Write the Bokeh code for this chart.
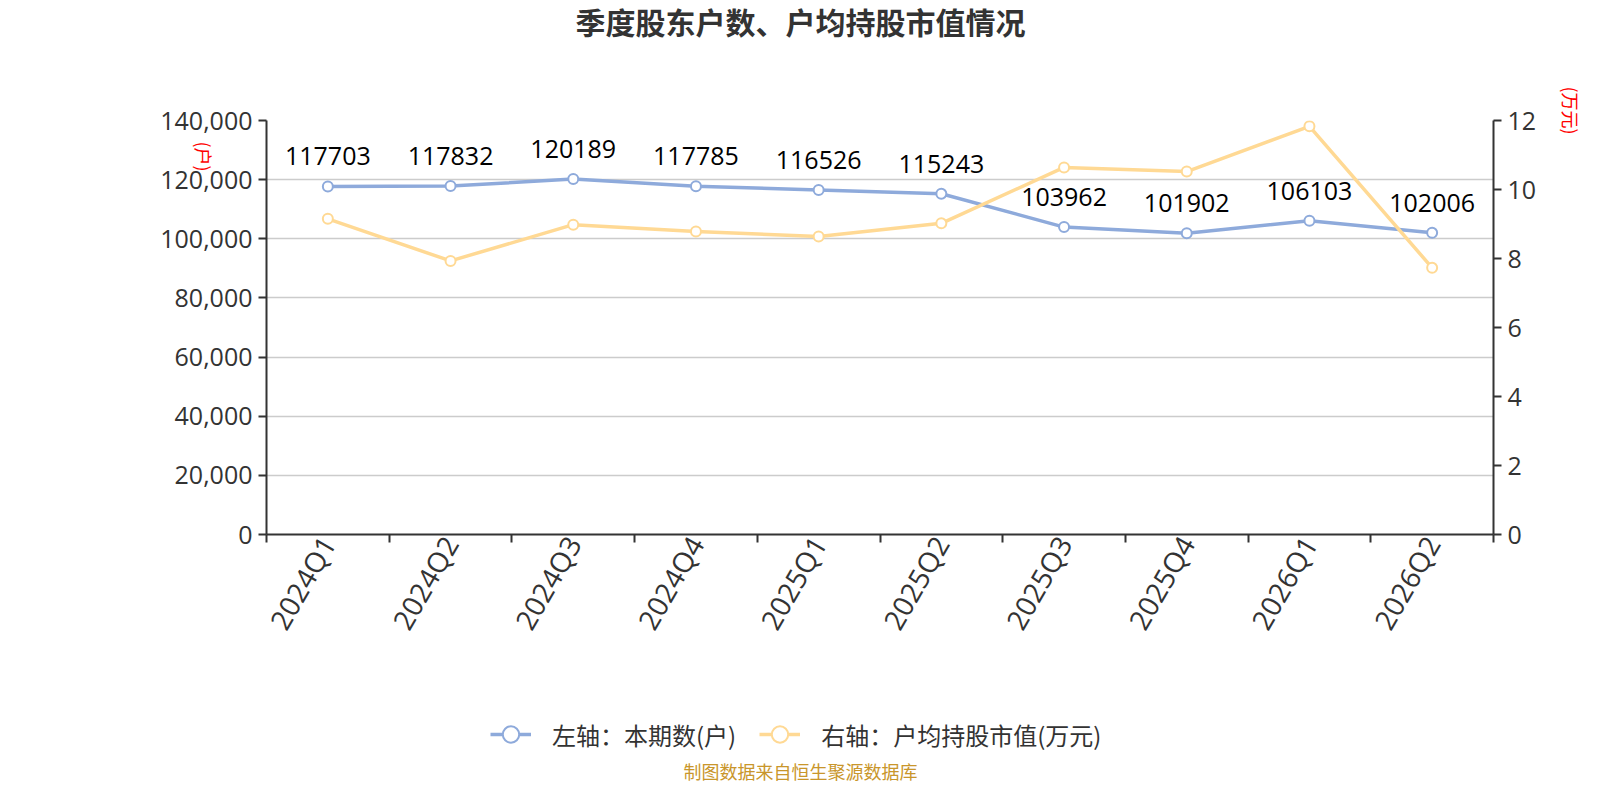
import math
from bokeh.plotting import figure
from bokeh.layouts import column
from bokeh.models import (Range1d, LinearAxis, FixedTicker, NumeralTickFormatter,
                          ColumnDataSource, Label, Legend, LegendItem, Grid)
from bokeh.core.properties import value
from bokeh.embed import file_html
from bokeh.resources import INLINE

# ---------------- data ----------------
quarters = ["2024Q1", "2024Q2", "2024Q3", "2024Q4", "2025Q1",
            "2025Q2", "2025Q3", "2025Q4", "2026Q1", "2026Q2"]
holders = [117703, 117832, 120189, 117785, 116526,
           115243, 103962, 101902, 106103, 102006]
avg_value = [9.15, 7.93, 8.98, 8.78, 8.64, 9.02, 10.64, 10.52, 11.83, 7.73]
left_ticks = [0, 20000, 40000, 60000, 80000, 100000, 120000, 140000]
right_ticks = [0, 2, 4, 6, 8, 10, 12]

title_text = "季度股东户数、户均持股市值情况"
legend_left = "左轴：本期数(户)"
legend_right = "右轴：户均持股市值(万元)"
left_unit = "(户)"
right_unit = "(万元)"
footer_text = "制图数据来自恒生聚源数据库"

BLUE = "#8eaadb"
YELLOW = "#ffd994"
AXIS = "#333333"
CJK = "Noto Sans CJK SC"
NUM = "Open Sans"

n = len(quarters)
xs = [i + 0.5 for i in range(n)]
src = ColumnDataSource(dict(x=xs, holders=holders, avg=avg_value,
                            lbl=[str(v) for v in holders]))

W = 1584
TH = 60            # title strip height
MT, MB = 60, 130   # main figure top / bottom borders
ML, MR = 266, 91   # main figure left / right borders
FRAME_H = 414
MH = MT + FRAME_H + MB
BH = 784 - TH - MH  # bottom strip height

def strip(h):
    # the column aligns this strip's frame with the main frame (ML .. W-MR),
    # so the x range is expressed in page pixels
    f = figure(width=W, height=h, output_backend="svg", toolbar_location=None,
               x_range=Range1d(ML, W - MR), y_range=Range1d(h, 0),
               x_axis_type=None, y_axis_type=None, min_border=0)
    f.outline_line_color = None
    return f

# ---------- title strip ----------
top = strip(TH)
top.add_layout(Label(x=800, y=20, text=title_text, text_align="center",
                     text_baseline="middle", text_font=CJK, text_font_style="bold",
                     text_font_size="30px", text_color="#333333"))

# ---------- main chart ----------
p = figure(width=W, height=MH, output_backend="svg", toolbar_location=None,
           x_range=Range1d(0, n), y_range=Range1d(left_ticks[0], left_ticks[-1]),
           x_axis_type=None, y_axis_type=None,
           min_border_left=ML, min_border_right=MR, min_border_top=MT, min_border_bottom=MB)
p.outline_line_color = None
p.extra_y_ranges = {"right": Range1d(right_ticks[0], right_ticks[-1])}

p.add_layout(Grid(dimension=1, ticker=FixedTicker(ticks=left_ticks),
                  grid_line_color="#cccccc", grid_line_width=1.5))

def style_axis(ax):
    ax.axis_line_color = AXIS
    ax.axis_line_width = 2
    ax.major_tick_line_color = AXIS
    ax.major_tick_line_width = 2
    ax.minor_tick_line_color = AXIS
    ax.minor_tick_line_width = 2
    ax.major_label_text_font = NUM
    ax.major_label_text_font_size = "25px"
    ax.major_label_text_color = AXIS

xaxis = LinearAxis(ticker=FixedTicker(ticks=xs, minor_ticks=list(range(n + 1))),
                   major_label_overrides={x: q for x, q in zip(xs, quarters)})
style_axis(xaxis)
xaxis.major_label_text_font_size = "28px"
xaxis.major_tick_out = 0
xaxis.major_tick_in = 0
xaxis.minor_tick_out = 8
xaxis.minor_tick_in = 0
xaxis.major_label_orientation = math.pi / 3
xaxis.major_label_standoff = -4
p.add_layout(xaxis, "below")

yl = LinearAxis(ticker=FixedTicker(ticks=left_ticks), formatter=NumeralTickFormatter(format="0,0"))
style_axis(yl)
yl.major_tick_out = 8
yl.major_tick_in = 0
yl.minor_tick_out = 0
yl.major_label_standoff = 6
p.add_layout(yl, "left")

yr = LinearAxis(y_range_name="right", ticker=FixedTicker(ticks=right_ticks))
style_axis(yr)
yr.major_tick_out = 8
yr.major_tick_in = 0
yr.minor_tick_out = 0
yr.major_label_standoff = 6
p.add_layout(yr, "right")

p.line("x", "holders", source=src, line_color=BLUE, line_width=3.5)
p.scatter("x", "holders", source=src, size=10, fill_color="white",
          line_color=BLUE, line_width=2)
p.line("x", "avg", source=src, line_color=YELLOW, line_width=3.5, y_range_name="right")
p.scatter("x", "avg", source=src, size=10, fill_color="white",
          line_color=YELLOW, line_width=2, y_range_name="right")

p.text("x", "holders", text="lbl", source=src, text_align="center",
       text_baseline="alphabetic", y_offset=-30, text_font=value(NUM),
       text_font_size="25px", text_color="#000000")

# unit labels in the side panels (positions relative to their own panel box)
p.add_layout(Label(x=72, y=378, x_units="screen", y_units="screen", text=left_unit,
                   text_align="center", text_baseline="middle", angle=-math.pi / 2,
                   text_font=CJK, text_font_size="18px", text_color="#ff0000"), "left")
p.add_layout(Label(x=31, y=424, x_units="screen", y_units="screen", text=right_unit,
                   text_align="center", text_baseline="middle", angle=-math.pi / 2,
                   text_font=CJK, text_font_size="18px", text_color="#ff0000"), "right")

# ---------- legend + footer strip ----------
bot = strip(BH)
proxy = ColumnDataSource(dict(x=[float("nan")], y=[float("nan")]))
r1 = bot.line("x", "y", source=proxy, line_color=BLUE, line_width=3.5)
r2 = bot.scatter("x", "y", source=proxy, size=10, fill_color="white", line_color=BLUE, line_width=2)
r3 = bot.line("x", "y", source=proxy, line_color=YELLOW, line_width=3.5)
r4 = bot.scatter("x", "y", source=proxy, size=10, fill_color="white", line_color=YELLOW, line_width=2)
legend = Legend(items=[LegendItem(label=legend_left, renderers=[r1, r2]),
                       LegendItem(label=legend_right, renderers=[r3, r4])],
                orientation="horizontal", location=(490 - ML, 28),
                glyph_width=41, glyph_height=44, label_standoff=21, spacing=23,
                padding=0, margin=0, border_line_color=None, background_fill_alpha=0,
                label_text_font=CJK, label_text_font_size="24px",
                label_text_color="#333333", label_text_baseline="middle")
bot.add_layout(legend)
bot.add_layout(Label(x=800, y=BH - 14, text=footer_text, text_align="center",
                     text_baseline="middle", text_font=CJK, text_font_size="18px",
                     text_color="#c9962b"))

layout = column(top, p, bot, spacing=0)
open("out.html", "w").write(file_html(layout, INLINE))
